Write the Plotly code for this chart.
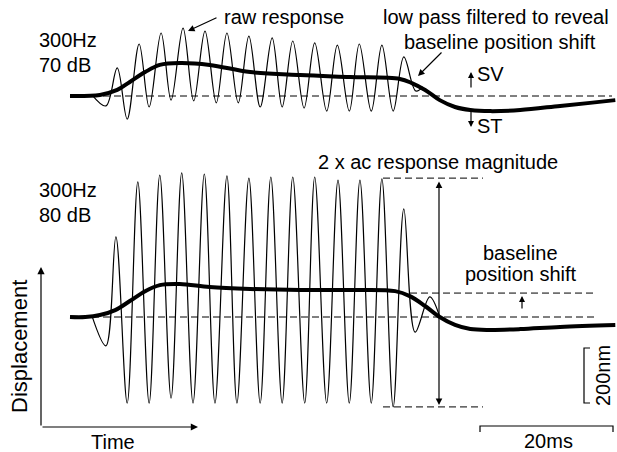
import plotly.graph_objects as go

# ---------------- data (time in ms, displacement in nm) ----------------
# 70 dB, 300 Hz : raw response extrema and low-pass filtered trace (relative to own baseline)
top_raw_t = [3.3, 5.4, 7.1, 8.6, 10.4, 11.9, 13.7, 15.2, 17.0, 18.6, 20.3, 22.0, 23.6, 25.3,
             26.9, 28.6, 30.4, 31.9, 33.5, 35.2, 36.8, 38.6, 40.2, 42.0, 43.5, 45.3, 46.9,
             48.6, 50.2, 52.0, 53.1]
top_raw_nm = [4, -36, 102, -84, 189, -40, 229, -15, 247, -18, 236, -25, 229, -25,
              218, -40, 211, -40, 200, -44, 193, -55, 185, -55, 189, -55, 185,
              -55, 142, 18, 33]
top_lp_t = [0, 4.5, 7.1, 9.0, 11.3, 13.5, 16.5, 21.0, 27.1, 34.6, 42.1, 49.6, 51.4, 53.4,
            55.6, 57.9, 60.2, 63.2, 67.7, 73.7, 78.2, 82.0]
top_lp_nm = [0, 4, 22, 51, 87, 113, 120, 113, 87, 76, 69, 62, 47, 22,
             -15, -40, -51, -55, -51, -36, -25, -15]

# 80 dB, 300 Hz
bot_raw_t = [3.3, 5.4, 6.9, 8.6, 10.2, 11.9, 13.5, 15.2, 16.8, 18.5, 20.2, 21.8, 23.6, 25.1,
             26.9, 28.6, 30.2, 31.9, 33.5, 35.3, 36.8, 38.6, 40.3, 42.0, 43.6, 45.3, 46.9,
             48.6, 50.2, 51.9, 54.1, 55.6]
bot_raw_nm = [4, -105, 291, -313, 491, -313, 516, -295, 524, -313, 520, -313, 513, -313,
              505, -313, 509, -313, 509, -313, 509, -313, 498, -313, 498, -313, 502,
              -327, 393, -55, 73, 0]
bot_lp_t = [0, 2.3, 4.5, 6.8, 9.0, 11.3, 13.5, 16.5, 21.0, 27.1, 34.6, 42.1, 48.9, 51.1,
            53.4, 55.6, 57.9, 60.2, 63.2, 67.7, 73.7, 82.0]
bot_lp_nm = [0, 0, 7, 25, 58, 94, 116, 120, 109, 102, 98, 98, 94, 76,
             40, 0, -29, -44, -47, -44, -36, -29]

ac_peak_nm = 505        # top of 2 x ac response magnitude
ac_trough_nm = -327     # bottom of 2 x ac response magnitude
shift_nm = 87           # baseline position shift level
scale_nm = 200          # vertical scale bar
scale_ms = 20           # horizontal scale bar

labels_top = ["300Hz", "70 dB"]
labels_bot = ["300Hz", "80 dB"]

# ---------------- layout helpers (pixel -> data mapping of the canvas) ----------------
W, H = 617, 452
PXMS, PXNM = 6.65, 0.275
X0, Y0 = 70, 317


def X(px):
    return (px - X0) / PXMS


def Y(py):
    return (Y0 - py) / PXNM


TOP_OFFSET = Y(96)
FONT = "Liberation Sans, Arial, sans-serif"

fig = go.Figure()

dash = "7px,4px"
thin = dict(color="black", width=1, dash=dash)

# dashed reference lines
fig.add_trace(go.Scatter(x=[0, X(612)], y=[TOP_OFFSET, TOP_OFFSET], mode="lines", line=thin))
fig.add_trace(go.Scatter(x=[0, X(597)], y=[0, 0], mode="lines", line=thin))
fig.add_trace(go.Scatter(x=[X(410), X(597)], y=[shift_nm, shift_nm], mode="lines", line=thin))
fig.add_trace(go.Scatter(x=[X(383), X(483)], y=[ac_peak_nm, ac_peak_nm], mode="lines", line=thin))
fig.add_trace(go.Scatter(x=[X(383), X(483)], y=[ac_trough_nm, ac_trough_nm], mode="lines", line=thin))

# raw responses
fig.add_trace(go.Scatter(x=top_raw_t, y=[v + TOP_OFFSET for v in top_raw_nm], mode="lines",
                         line=dict(color="black", width=1.2, shape="spline", smoothing=1)))
fig.add_trace(go.Scatter(x=bot_raw_t, y=bot_raw_nm, mode="lines",
                         line=dict(color="black", width=1.2, shape="spline", smoothing=1)))
# low pass filtered
fig.add_trace(go.Scatter(x=top_lp_t, y=[v + TOP_OFFSET for v in top_lp_nm], mode="lines",
                         line=dict(color="black", width=4, shape="spline", smoothing=1)))
fig.add_trace(go.Scatter(x=bot_lp_t, y=bot_lp_nm, mode="lines",
                         line=dict(color="black", width=4, shape="spline", smoothing=1)))

# scale bars
sb_x = X(584)
sb_y0 = Y(403)
fig.add_trace(go.Scatter(x=[X(590), sb_x, sb_x, X(590)],
                         y=[sb_y0 + scale_nm, sb_y0 + scale_nm, sb_y0, sb_y0],
                         mode="lines", line=dict(color="black", width=1.2)))
hb_x0 = X(480)
hb_y = Y(426)
fig.add_trace(go.Scatter(x=[hb_x0, hb_x0, hb_x0 + scale_ms, hb_x0 + scale_ms],
                         y=[Y(432), hb_y, hb_y, Y(432)],
                         mode="lines", line=dict(color="black", width=1.2)))

anns = []


def text(s, px, py, size=20, angle=0, xanchor="center"):
    anns.append(dict(x=X(px), y=Y(py), text=s, showarrow=False, xanchor=xanchor, yanchor="middle",
                     textangle=angle, font=dict(family=FONT, size=size, color="black")))


def arrow(px0, py0, px1, py1, side="end", head=2, size=1.1, width=1.2):
    anns.append(dict(x=X(px1), y=Y(py1), ax=X(px0), ay=Y(py0), axref="x", ayref="y",
                     xref="x", yref="y", text="", showarrow=True, arrowhead=head,
                     startarrowhead=head, arrowside=side, arrowsize=size, startarrowsize=size,
                     arrowwidth=width, arrowcolor="black", standoff=0, startstandoff=0))


text(labels_top[0], 37, 40, xanchor="left")
text(labels_top[1], 37, 65, xanchor="left")
text(labels_bot[0], 37, 190, xanchor="left")
text(labels_bot[1], 37, 215, xanchor="left")
text("raw response", 284, 17)
text("low pass filtered to reveal", 496, 17)
text("baseline position shift", 500, 42)
text("SV", 490, 74)
text("ST", 490, 126)
text("2 x ac response magnitude", 438, 162)
text("baseline", 520, 253)
text("position shift", 521, 274)
text("Displacement", 19, 347, size=22, angle=-90)
text("Time", 113, 442)
text("20ms", 548, 441)
text("200nm", 603, 376, angle=-90)

arrow(218, 17, 188, 31)
arrow(443, 51, 418, 76)
arrow(471, 89, 471, 72, size=1.0)
arrow(471, 110, 471, 127, size=1.0)
arrow(439, 180, 439, 405, side="end+start", size=1.1)
arrow(522, 310, 522, 296, size=1.0)
arrow(41, 427, 41, 267, size=1.2)
arrow(41, 427, 198, 427, size=1.2)

fig.update_layout(
    width=W, height=H, margin=dict(l=0, r=0, t=0, b=0),
    paper_bgcolor="white", plot_bgcolor="white", showlegend=False,
    xaxis=dict(range=[X(0), X(W)], visible=False, fixedrange=True),
    yaxis=dict(range=[Y(H), Y(0)], visible=False, fixedrange=True),
    annotations=anns,
)

fig.write_html("out.html", config={"displayModeBar": False},
               post_script="document.body.style.margin='0';document.body.style.overflow='hidden';")
